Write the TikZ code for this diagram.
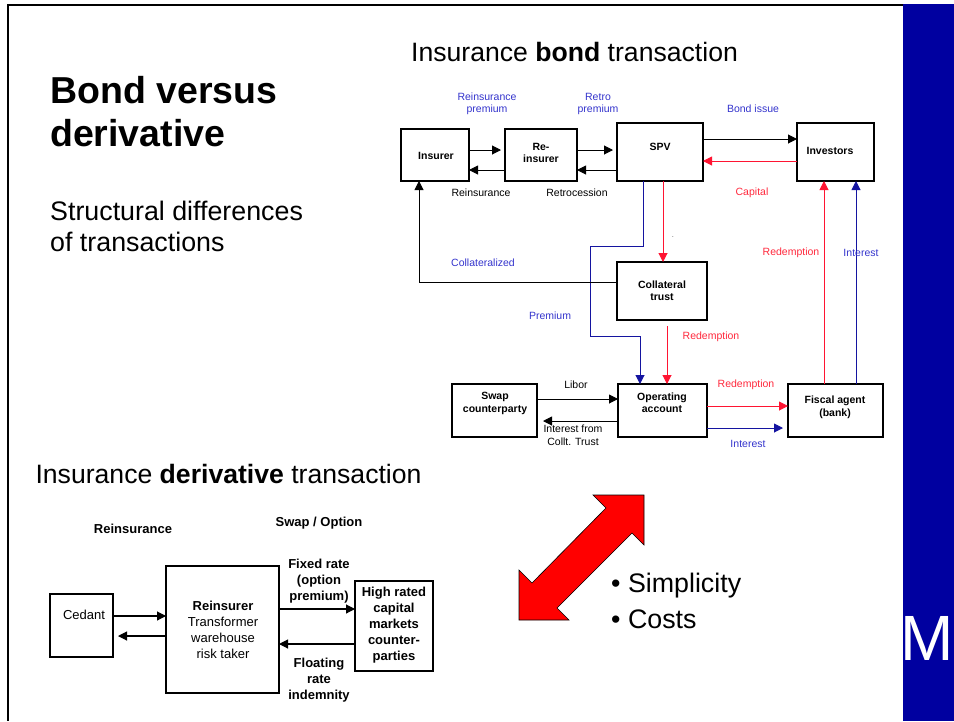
\documentclass[tikz,border=0pt]{standalone}
\usepackage{fontspec}
\setmainfont{Liberation Sans}
\usetikzlibrary{arrows.meta}
\definecolor{barblue}{RGB}{0,0,160}
\definecolor{lnblue}{RGB}{20,20,160}
\definecolor{lblblue}{RGB}{51,51,204}
\definecolor{lnred}{RGB}{255,20,50}
\definecolor{lblred}{RGB}{255,40,60}
\begin{document}
\begin{tikzpicture}[x=1pt,y=-1pt,
  box/.style={draw, line width=1.2pt, inner sep=0pt, outer sep=0pt},
  sm/.style={font=\fontsize{10.5}{12.5}\selectfont, align=center, inner sep=0pt},
  smb/.style={font=\fontsize{10.5}{12.5}\selectfont\bfseries, align=center, inner sep=0pt},
  bt/.style={font=\fontsize{13}{16}\selectfont, align=center, inner sep=0pt},
  btb/.style={font=\fontsize{13}{16}\selectfont\bfseries, align=center, inner sep=0pt},
  arr/.style={-{Triangle[length=9pt,width=9pt]}, line width=1pt},
  rarr/.style={arr, draw=lnred, -{Triangle[length=9pt,width=9pt,fill=lnred]}},
  barr/.style={arr, draw=lnblue, -{Triangle[length=9pt,width=9pt,fill=lnblue]}},
  arr2/.style={-{Triangle[length=9pt,width=9pt]}, line width=1.1pt}
]
\useasboundingbox (0,0) rectangle (954,721);
% frame and side bar
\fill[barblue] (903,4) rectangle (954,721);
\draw[line width=2pt] (7,4.5) -- (903,4.5);
\draw[line width=2pt] (8,4) -- (8,721);
\node[text=white, font=\fontsize{64}{64}\selectfont, anchor=west, inner sep=0pt] (mlogo) at (900,638.5) {M};

% left titles
\node[anchor=west, align=left, inner sep=0pt, font=\fontsize{37.5}{43}\selectfont\bfseries] (title) at (50,111.5) {Bond versus\\derivative};
\node[anchor=west, align=left, inner sep=0pt, font=\fontsize{26.8}{31}\selectfont] (sub) at (50,226.5) {Structural differences\\of transactions};
\node[inner sep=0pt, font=\fontsize{26.6}{30}\selectfont] (bondt) at (574.5,52) {Insurance \textbf{bond} transaction};
\node[inner sep=0pt, font=\fontsize{26.6}{30}\selectfont] (derivt) at (228.5,474) {Insurance \textbf{derivative} transaction};
\node[anchor=west, align=left, inner sep=0pt, font=\fontsize{26.8}{36}\selectfont] (bul) at (611,601) {• Simplicity\\• Costs};

% big double arrow
\filldraw[fill=red, draw=black, line width=0.6pt]
  (644,495) -- (644,545) -- (632,533) -- (557,608) -- (569,620) -- (519,620)
  -- (519,570) -- (532,583) -- (606,508) -- (593,495) -- cycle;

% ---- bond transaction boxes
\node[box, minimum width=68pt, minimum height=52pt] (ins) at (435,155) {};
\node[smb] (inst) at (436,156) {Insurer};
\node[box, minimum width=72pt, minimum height=52pt] (rei) at (541,155) {};
\node[smb] (reit) at (541,153) {Re-\\insurer};
\node[box, minimum width=86pt, minimum height=58pt] (spv) at (660,152) {};
\node[smb] (spvt) at (660,147) {SPV};
\node[box, minimum width=77pt, minimum height=58pt] (inv) at (835.5,152) {};
\node[smb] (invt) at (830,151) {Investors};
\node[box, minimum width=90pt, minimum height=58pt] (ct) at (662,291) {};
\node[smb] (ctt) at (662,290.5) {Collateral\\trust};
\node[box, minimum width=85pt, minimum height=53pt] (swp) at (494.5,410.5) {};
\node[smb] (swpt) at (495,403.5) {Swap\\counterparty};
\node[box, minimum width=89pt, minimum height=53pt] (oa) at (662.5,410.5) {};
\node[smb] (oat) at (662,402.5) {Operating\\account};
\node[box, minimum width=95pt, minimum height=53pt] (fa) at (835.5,410.5) {};
\node[smb] (fat) at (835,407.5) {Fiscal agent\\(bank)};

% ---- bond transaction connectors
\draw[arr, shorten >=4pt] ([yshift=5pt]ins.east) -- ([yshift=5pt]rei.west);
\draw[arr] ([yshift=-15pt]rei.west) -- ([yshift=-15pt]ins.east);
\draw[arr, shorten >=4pt] ([yshift=5pt]rei.east) -- ([yshift=2pt]spv.west);
\draw[arr] ([yshift=-18pt]spv.west) -- ([yshift=-15pt]rei.east);
\draw[arr] ([yshift=13pt]spv.east) -- ([yshift=13pt]inv.west);
\draw[rarr] ([yshift=-9pt]inv.west) -- ([yshift=-9pt]spv.east);
\draw[rarr] ([xshift=-11.5pt]fa.north) -- ([xshift=-11.5pt]inv.south);
\draw[barr] ([xshift=20.5pt]fa.north) -- ([xshift=20.5pt]inv.south);
\draw[rarr] ([xshift=3pt]spv.south) -- ([xshift=1pt]ct.north);
\draw[barr] ([xshift=-17pt]spv.south) -- ++(0,65) -- ++(-53,0) -- ++(0,90) -- ++(50,0) -- ([xshift=-22.5pt]oa.north);
\draw[arr] ([yshift=9pt]ct.west) -| ([xshift=-16pt]ins.south);
\draw[rarr, shorten <=6pt] ([xshift=5pt]ct.south) -- ([xshift=4.5pt]oa.north);
\draw[arr] ([yshift=11.5pt]swp.east) -- ([yshift=11.5pt]oa.west);
\draw[arr, shorten >=6pt] ([yshift=-10.5pt]oa.west) -- ([yshift=-10.5pt]swp.east);
\draw[rarr] ([yshift=4.5pt]oa.east) -- ([yshift=4.5pt]fa.west);
\draw[barr, shorten >=5pt] ([yshift=-17.5pt]oa.east) -- ([yshift=-17.5pt]fa.west);

% ---- bond transaction labels
\node[sm, text=lblblue] (l1) at (487,104) {Reinsurance\\premium};
\node[sm, text=lblblue] (l2) at (598,104) {Retro\\premium};
\node[sm] (l3) at (481,193) {Reinsurance};
\node[sm] (l4) at (577,193) {Retrocession};
\node[sm, text=lblblue] (l5) at (753,109) {Bond issue};
\node[sm, text=lblred] (l6) at (752,193) {Capital};
\node[sm, text=lblred] (l7) at (791,253) {Redemption};
\node[sm, text=lblblue] (l8) at (861,253) {Interest};
\node[sm, text=lblblue] (l9) at (483,263) {Collateralized};
\node[sm, text=lblblue] (l10) at (550,316) {Premium};
\node[sm, text=lblred] (l11) at (711,337) {Redemption};
\node[sm] (l12) at (576,385) {Libor};
\node[sm] (l13) at (573,435) {Interest from\\Collt. Trust};
\node[sm, text=lblred] (l14) at (746,385) {Redemption};
\node[sm, text=lblblue] (l15) at (748,444) {Interest};
\node[font=\fontsize{6}{6}\selectfont, inner sep=0pt] (dot) at (673,237) {.};

% ---- derivative transaction
\node[box, minimum width=63pt, minimum height=63pt] (ced) at (81.5,625.5) {};
\node[bt] (cedt) at (84,615) {Cedant};
\node[box, minimum width=113pt, minimum height=127pt] (rin) at (222.5,629.5) {};
\node[bt] (rint) at (223,630) {\textbf{Reinsurer}\\Transformer\\warehouse\\risk taker};
\node[box, minimum width=78pt, minimum height=90pt] (hr) at (394,626) {};
\node[btb] (hrt) at (394,625) {High rated\\capital\\markets\\counter-\\parties};
\draw[arr2] ([yshift=9.5pt]ced.east) -- ([yshift=13.5pt]rin.west);
\draw[arr2, shorten >=5pt] ([yshift=-6.5pt]rin.west) -- ([yshift=-10.5pt]ced.east);
\draw[arr2] ([yshift=20.5pt]rin.east) -- ([yshift=17pt]hr.west);
\draw[arr2] ([yshift=-18pt]hr.west) -- ([yshift=-14.5pt]rin.east);
\node[btb] (d1) at (133,529) {Reinsurance};
\node[btb] (d2) at (319,523) {Swap / Option};
\node[btb] (d3) at (319,581) {Fixed rate\\(option\\premium)};
\node[btb] (d4) at (319,680) {Floating\\rate\\indemnity};
\end{tikzpicture}
\end{document}
